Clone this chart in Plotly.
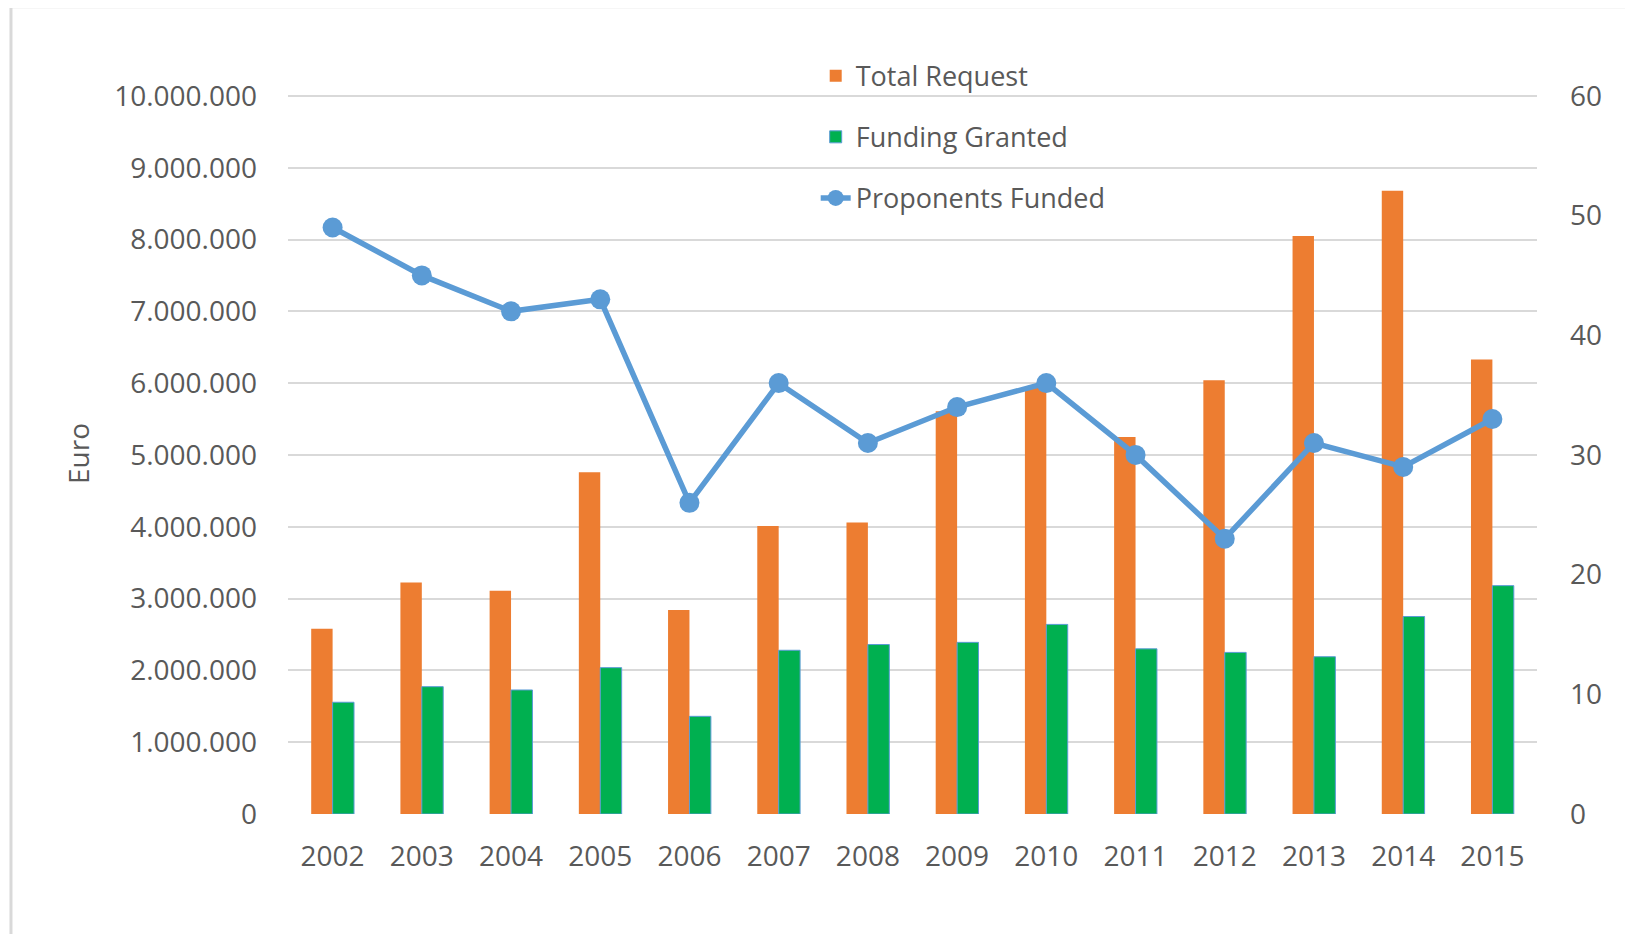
import plotly.graph_objects as go

years = ["2002", "2003", "2004", "2005", "2006", "2007", "2008",
         "2009", "2010", "2011", "2012", "2013", "2014", "2015"]
total_request = [2580000, 3225000, 3110000, 4760000, 2840000, 4010000, 4060000,
                 5610000, 5950000, 5250000, 6040000, 8050000, 8680000, 6330000]
funding_granted = [1556000, 1773000, 1727000, 2038000, 1360000, 2280000, 2360000,
                   2390000, 2640000, 2300000, 2250000, 2190000, 2750000, 3180000]
proponents_funded = [49, 45, 42, 43, 26, 36, 31, 34, 36, 30, 23, 31, 29, 33]

left_ticks = [0, 1000000, 2000000, 3000000, 4000000, 5000000,
              6000000, 7000000, 8000000, 9000000, 10000000]
right_ticks = [0, 10, 20, 30, 40, 50, 60]

FONT = "Open Sans"
TXT = "#595959"
GRID = "#d9d9d9"

fig = go.Figure()
fig.add_trace(go.Bar(
    x=years, y=total_request, name="Total Request",
    marker=dict(color="#ED7D31", line=dict(width=0)),
    legendgroup="a", yaxis="y",
))
fig.add_trace(go.Bar(
    x=years, y=funding_granted, name="Funding Granted",
    marker=dict(color="#00B050", line=dict(color="#5B9BD5", width=1)),
    legendgroup="b", yaxis="y",
))
fig.add_trace(go.Scatter(
    x=years, y=proponents_funded, name="Proponents Funded",
    mode="lines+markers",
    line=dict(color="#5B9BD5", width=5.5),
    marker=dict(color="#5B9BD5", size=20),
    legendgroup="c", yaxis="y2",
))

fig.update_layout(
    width=1625, height=926,
    margin=dict(l=280, r=96, t=85, b=120, autoexpand=False),
    paper_bgcolor="white", plot_bgcolor="white",
    separators=",.",
    font=dict(family=FONT, size=28, color=TXT),
    barmode="group", bargap=0.52, bargroupgap=0,
    showlegend=True,
    legend=dict(
        x=0.4225, y=1.0573, xanchor="left", yanchor="top",
        orientation="v", tracegroupgap=23, traceorder="grouped",
        font=dict(family=FONT, size=27, color=TXT),
        bgcolor="rgba(0,0,0,0)",
    ),
    xaxis=dict(
        type="category", range=[-0.5, len(years) - 0.5],
        showgrid=False, showline=False, zeroline=False,
        ticks="", tickfont=dict(size=28, color=TXT), ticklabelstandoff=23,
    ),
    yaxis=dict(
        range=[0, 10040000], tickvals=left_ticks, tickformat=",d",
        showgrid=True, gridcolor=GRID, gridwidth=2, zeroline=False,
        showline=False, ticks="", tickfont=dict(size=28, color=TXT),
        ticklabelstandoff=30,
        title=dict(text="Euro", font=dict(size=28, color=TXT), standoff=16),
    ),
    yaxis2=dict(
        range=[0, 60.24], tickvals=right_ticks, overlaying="y", side="right",
        showgrid=False, zeroline=False, showline=False, ticks="",
        tickfont=dict(size=28, color=TXT), ticklabelstandoff=32,
    ),
    shapes=[dict(
        type="rect", xref="paper", yref="paper",
        x0=-0.2218, x1=1.0745, y0=-0.3, y1=1.1195,
        line=dict(color=GRID, width=3), fillcolor="rgba(0,0,0,0)", layer="below",
    )],
)

fig.write_html("out.html")
